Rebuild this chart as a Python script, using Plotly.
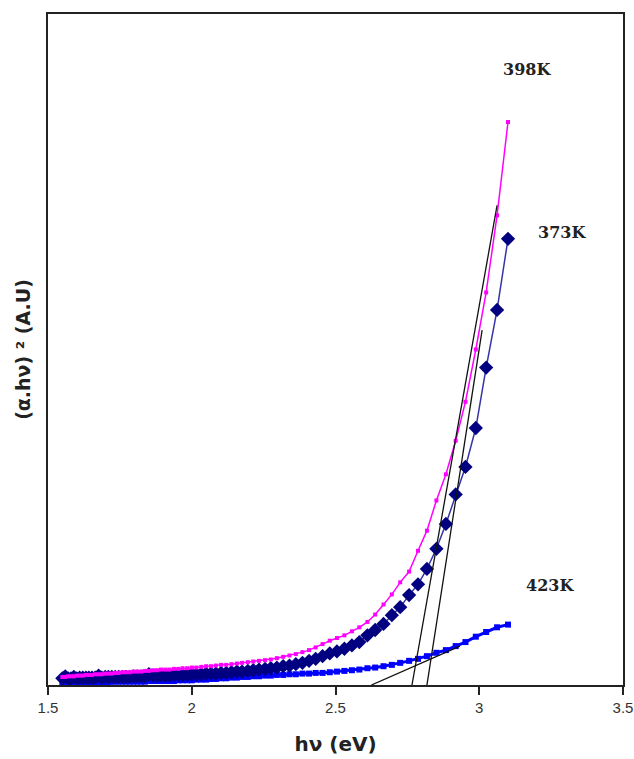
import plotly.graph_objects as go

# photon energy hv (eV), shared by all three curves
energy = [
    1.550, 1.560, 1.570, 1.580, 1.590, 1.600, 1.610, 1.621, 1.632, 1.642,
    1.653, 1.664, 1.676, 1.687, 1.699, 1.710, 1.722, 1.734, 1.746, 1.759,
    1.771, 1.784, 1.797, 1.810, 1.824, 1.837, 1.851, 1.865, 1.879, 1.893,
    1.908, 1.922, 1.938, 1.953, 1.968, 1.984, 2.000, 2.016, 2.033, 2.050,
    2.067, 2.084, 2.102, 2.120, 2.138, 2.157, 2.175, 2.195, 2.214, 2.234,
    2.255, 2.275, 2.296, 2.318, 2.340, 2.362, 2.385, 2.408, 2.431, 2.455,
    2.480, 2.505, 2.531, 2.557, 2.583, 2.611, 2.638, 2.667, 2.696, 2.725,
    2.756, 2.787, 2.818, 2.851, 2.884, 2.918, 2.952, 2.988, 3.024, 3.062,
    3.100,
]

# (alpha.hv)^2 in arbitrary units
y_398K = [
    1.2, 1.2, 1.3, 1.3, 1.3, 1.4, 1.4, 1.4, 1.5, 1.5,
    1.5, 1.6, 1.6, 1.6, 1.7, 1.7, 1.7, 1.8, 1.8, 1.9,
    1.9, 1.9, 2.0, 2.0, 2.0, 2.1, 2.1, 2.2, 2.2, 2.3,
    2.3, 2.3, 2.4, 2.4, 2.5, 2.5, 2.6, 2.6, 2.7, 2.8,
    2.8, 2.9, 3.0, 3.0, 3.1, 3.2, 3.3, 3.4, 3.5, 3.6,
    3.7, 3.8, 4.0, 4.2, 4.4, 4.6, 4.9, 5.2, 5.6, 6.1,
    6.6, 7.0, 7.4, 8.0, 8.6, 9.4, 10.5, 12.0, 13.5, 15.3,
    16.9, 20.0, 23.0, 27.5, 31.4, 36.4, 42.2, 50.0, 58.5, 70.0,
    83.9,
]

y_373K = [
    1.0, 1.3, 1.0, 1.0, 1.2, 1.0, 1.1, 1.1, 1.1, 1.1,
    1.1, 1.1, 1.4, 1.1, 1.2, 1.2, 1.2, 1.2, 1.2, 1.2,
    1.2, 1.2, 1.3, 1.3, 1.3, 1.3, 1.6, 1.4, 1.4, 1.4,
    1.4, 1.4, 1.5, 1.5, 1.5, 1.5, 1.6, 1.6, 1.6, 1.7,
    1.7, 1.7, 1.8, 1.8, 1.9, 2.0, 2.0, 2.1, 2.2, 2.3,
    2.4, 2.5, 2.6, 2.8, 2.9, 3.1, 3.3, 3.6, 3.9, 4.3,
    4.7, 5.0, 5.4, 5.9, 6.4, 7.4, 8.2, 9.1, 10.4, 11.6,
    13.4, 15.0, 17.3, 20.3, 24.0, 28.4, 32.5, 38.3, 47.3, 55.9,
    66.5,
]

y_423K = [
    0.3, 0.3, 0.3, 0.3, 0.4, 0.4, 0.4, 0.4, 0.4, 0.4,
    0.4, 0.4, 0.4, 0.4, 0.4, 0.4, 0.5, 0.5, 0.5, 0.5,
    0.5, 0.5, 0.5, 0.5, 0.5, 0.5, 0.6, 0.6, 0.6, 0.6,
    0.6, 0.6, 0.6, 0.7, 0.7, 0.7, 0.7, 0.8, 0.8, 0.8,
    0.9, 0.9, 1.0, 1.0, 1.1, 1.1, 1.2, 1.2, 1.3, 1.3,
    1.4, 1.4, 1.5, 1.5, 1.6, 1.6, 1.7, 1.7, 1.8, 1.8,
    1.9, 2.0, 2.1, 2.2, 2.3, 2.5, 2.6, 2.8, 3.0, 3.3,
    3.6, 3.9, 4.3, 4.8, 5.2, 5.8, 6.4, 7.2, 7.9, 8.6,
    9.0,
]

# linear extrapolation (Tauc) lines: [start, end]
tangent_398K_x = [2.766, 3.062]
tangent_398K_y = [0.0, 71.5]
tangent_373K_x = [2.818, 3.010]
tangent_373K_y = [0.0, 52.9]
tangent_423K_x = [2.625, 2.933]
tangent_423K_y = [0.0, 5.8]

labels = ["398K", "373K", "423K"]
label_x = [3.166, 3.288, 3.246]
label_y = [91.8, 67.5, 14.8]

x_ticks = [1.5, 2, 2.5, 3, 3.5]

fig = go.Figure()

fig.add_trace(go.Scatter(
    x=energy, y=y_423K, mode="lines+markers",
    line=dict(color="#0000FF", width=3),
    marker=dict(symbol="square", size=6, color="#0000FF"),
    showlegend=False))

fig.add_trace(go.Scatter(
    x=energy, y=y_373K, mode="lines+markers",
    line=dict(color="#3535A8", width=1.5),
    marker=dict(symbol="diamond", size=11, color="#000080"),
    showlegend=False))

fig.add_trace(go.Scatter(
    x=energy, y=y_398K, mode="lines+markers",
    line=dict(color="#FF00FF", width=1.5),
    marker=dict(symbol="square", size=4, color="#FF00FF"),
    showlegend=False))

for tx, ty in [(tangent_398K_x, tangent_398K_y),
               (tangent_373K_x, tangent_373K_y),
               (tangent_423K_x, tangent_423K_y)]:
    fig.add_trace(go.Scatter(
        x=tx, y=ty, mode="lines",
        line=dict(color="#111111", width=1.3),
        showlegend=False))

for t, lx, ly in zip(labels, label_x, label_y):
    fig.add_annotation(
        x=lx, y=ly, text="<b>" + t + "</b>", showarrow=False,
        font=dict(family="DejaVu Serif", size=16, color="#222222"))

fig.update_layout(
    width=634, height=759,
    margin=dict(l=48, r=11, t=14, b=74, autoexpand=False),
    paper_bgcolor="white", plot_bgcolor="white",
    font=dict(family="Liberation Sans", color="#333333"),
)

fig.update_xaxes(
    range=[1.5, 3.5], tickvals=x_ticks, ticktext=[str(v) for v in x_ticks],
    ticks="outside", ticklen=8, tickcolor="#222222", tickwidth=1.5,
    showline=True, linecolor="#222222", linewidth=2, mirror=True,
    showgrid=False, zeroline=False, automargin=False,
    tickfont=dict(family="Liberation Sans", size=15, color="#333333"),
    title=dict(text="<b>hν (eV)</b>", standoff=22,
               font=dict(family="DejaVu Sans", size=20, color="#222222")),
)

fig.update_yaxes(
    range=[0, 100], showticklabels=False, ticks="",
    showline=True, linecolor="#222222", linewidth=2, mirror=True,
    showgrid=False, zeroline=False, automargin=False,
    title=dict(text="<b>(α.hν) ² (A.U)</b>", standoff=10,
               font=dict(family="DejaVu Sans", size=19, color="#222222")),
)

fig.write_html("out.html")
